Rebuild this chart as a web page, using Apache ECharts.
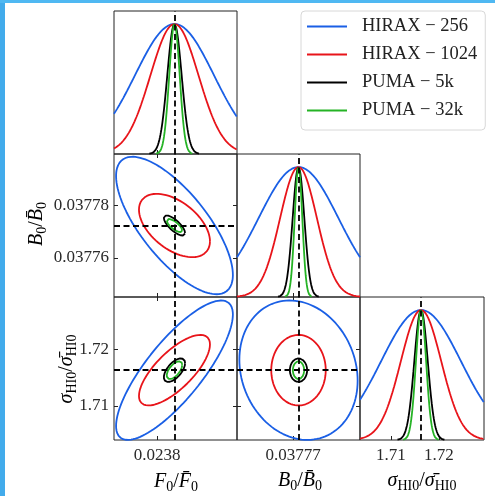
<!DOCTYPE html>
<html><head><meta charset="utf-8">
<script src="https://cdn.jsdelivr.net/npm/echarts@6/dist/echarts.min.js"></script>
<style>html,body{margin:0;padding:0;background:#fff;}#c{width:495px;height:496px;}</style>
</head><body><div id="c"></div>
<script>
// ---------------- data ----------------
const experiments = ['HIRAX \u2212 256', 'HIRAX \u2212 1024', 'PUMA \u2212 5k', 'PUMA \u2212 32k'];
const colors = ['#1a5fe5', '#e8141a', '#000000', '#25b325'];
// parameter order: F0/F0bar, B0/B0bar, sigmaHI0/sigmaHI0bar
const fiducial = [0.023817, 0.0377724, 1.7163];
const sigmaF0 = [3.85e-5, 2.34e-5, 7.0e-6, 5.1e-6];
const sigmaB0 = [1.78e-5, 8.2e-6, 2.6e-6, 1.7e-6];
const sigmaHI0 = [0.0083, 0.0042, 0.0014, 0.00106];
const corrF0B0 = [-0.72, -0.5, -0.75, -0.75];
const corrF0HI0 = [0.8, 0.73, 0.6, 0.6];
const corrB0HI0 = [-0.15, 0.0, 0.0, 0.0];
const xRanges = [[0.023758, 0.023878], [0.037745, 0.0377998], [1.7036, 1.7294]];
const yRanges = [[0, 1.1], [0.037745, 0.0377998], [1.7040, 1.7292]];
const ticksF0 = [0.0238];
const ticksB0x = [0.03777];
const ticksB0y = [0.03776, 0.03778];
const ticksHI0 = [1.71, 1.72];
const tickDecimals = [4, 5, 2];

// ---------------- build ----------------
const sigmas = [sigmaF0, sigmaB0, sigmaHI0];
function corr(a, b) {
  const k = Math.min(a, b) * 10 + Math.max(a, b);
  return k === 1 ? corrF0B0 : (k === 2 ? corrF0HI0 : corrB0HI0);
}
const xTicks = [ticksF0, ticksB0x, ticksHI0];
const yTicks = [null, ticksB0y, ticksHI0];
const SERIF = '"Liberation Serif", "DejaVu Serif", serif';
const colX = [114, 237, 360], colW = [123, 123, 124];
const rowY = [11, 154, 297], rowH = 143;
const contourScale = 1.48;
const curveSpan = 3.5; // 1D curves drawn over mean +/- curveSpan sigma
const panels = [[0,0],[1,0],[1,1],[2,0],[2,1],[2,2]];
const grids = [], xAxes = [], yAxes = [], series = [];
const tickStyle = {show: true, inside: true, length: 4, lineStyle: {color: '#222', width: 1}};
const labelStyle = {color: '#2a2a2a', fontFamily: SERIF, fontSize: 17};

panels.forEach(([r, c], gi) => {
  grids.push({left: colX[c], top: rowY[r], width: colW[c], height: rowH,
    show: true, borderColor: '#222', borderWidth: 1, backgroundColor: 'transparent'});
  const diag = r === c;
  const xb = xAxes.length;
  xAxes.push({type: 'value', gridIndex: gi, position: 'bottom', min: xRanges[c][0], max: xRanges[c][1],
    axisLine: {show: false}, splitLine: {show: false},
    axisTick: Object.assign({customValues: xTicks[c]}, tickStyle),
    axisLabel: Object.assign({show: r === 2, customValues: xTicks[c], margin: 7,
      formatter: v => Number(v).toFixed(tickDecimals[c])}, labelStyle)});
  if (!diag) {
    xAxes.push({type: 'value', gridIndex: gi, position: 'top', min: xRanges[c][0], max: xRanges[c][1],
      axisLine: {show: false}, splitLine: {show: false},
      axisTick: Object.assign({customValues: xTicks[c]}, tickStyle), axisLabel: {show: false}});
  }
  const yl = yAxes.length;
  if (diag) {
    yAxes.push({type: 'value', gridIndex: gi, min: 0, max: 1.1, show: false});
  } else {
    yAxes.push({type: 'value', gridIndex: gi, position: 'left', min: yRanges[r][0], max: yRanges[r][1],
      axisLine: {show: false}, splitLine: {show: false},
      axisTick: Object.assign({customValues: yTicks[r]}, tickStyle),
      axisLabel: Object.assign({show: c === 0, customValues: yTicks[r], margin: 5,
        formatter: v => Number(v).toFixed(tickDecimals[r])}, labelStyle)});
    yAxes.push({type: 'value', gridIndex: gi, position: 'right', min: yRanges[r][0], max: yRanges[r][1],
      axisLine: {show: false}, splitLine: {show: false},
      axisTick: Object.assign({customValues: yTicks[r]}, tickStyle), axisLabel: {show: false}});
  }
  experiments.forEach((name, e) => {
    let data = [];
    if (diag) {
      const mu = fiducial[c], s = sigmas[c][e];
      const a = Math.max(xRanges[c][0], mu - curveSpan * s), b = Math.min(xRanges[c][1], mu + curveSpan * s);
      const N = 400;
      for (let i = 0; i <= N; i++) {
        const x = a + (b - a) * i / N;
        data.push([x, Math.exp(-0.5 * ((x - mu) / s) ** 2)]);
      }
    } else {
      const mx = fiducial[c], my = fiducial[r];
      const sx = sigmas[c][e], sy = sigmas[r][e], rho = corr(c, r)[e];
      const N = 240;
      for (let i = 0; i <= N; i++) {
        const t = 2 * Math.PI * i / N;
        data.push([mx + contourScale * sx * Math.cos(t),
                   my + contourScale * sy * (rho * Math.cos(t) + Math.sqrt(1 - rho * rho) * Math.sin(t))]);
      }
    }
    const s = {type: 'line', name: name, xAxisIndex: xb, yAxisIndex: yl, data: data,
      showSymbol: false, symbol: 'none', color: colors[e], clip: true, silent: true,
      lineStyle: {color: colors[e], width: 1.8}};
    if (e === experiments.length - 1) {
      const md = [{xAxis: fiducial[c]}];
      if (!diag) md.push({yAxis: fiducial[r]});
      s.markLine = {silent: true, symbol: ['none', 'none'], label: {show: false}, precision: 10,
        lineStyle: {type: [6, 3.5], color: '#000', width: 1.8}, data: md, animation: false};
    }
    series.push(s);
  });
});

const rich = {
  i: {fontFamily: SERIF, fontStyle: 'italic', fontSize: 20, color: '#222'},
  n: {fontFamily: SERIF, fontSize: 20, color: '#222'},
  s: {fontFamily: SERIF, fontSize: 14, color: '#222', padding: [10, 0, 0, 0]}
};
const titleF = '{i|F}{s|0}{n|/}{i|F\u0304}{s|0}';
const titleB = '{i|B}{s|0}{n|/}{i|B\u0304}{s|0}';
const titleS = '{i|\u03c3}{s|HI0}{n|/}{i|\u03c3\u0304}{s|HI0}';
function title(text, x, y, rot) {
  return {type: 'text', x: x, y: y, rotation: rot || 0, silent: true,
    style: {text: text, rich: rich, align: 'center', verticalAlign: 'middle'}};
}

const option = {
  animation: false,
  backgroundColor: '#fff',
  grid: grids, xAxis: xAxes, yAxis: yAxes, series: series,
  legend: {data: experiments, orient: 'vertical', left: 301, top: 11, icon: 'rect',
    itemWidth: 40, itemHeight: 2, itemGap: 9, padding: [6, 8, 10, 6],
    backgroundColor: '#fff', borderColor: '#d8d8d8', borderWidth: 1, borderRadius: 4,
    textStyle: {fontFamily: SERIF, fontSize: 18.5, color: '#222', padding: [0, 0, 0, 10]}},
  graphic: [
    {type: 'rect', shape: {x: 0, y: 0, width: 5, height: 496}, style: {fill: '#42abeb'}, silent: true, z: 100},
    {type: 'rect', shape: {x: 0, y: 0, width: 495, height: 3}, style: {fill: '#4fb8f2'}, silent: true, z: 100},
    title(titleF, 176, 482),
    title(titleB, 300, 481),
    title(titleS, 422, 481),
    title(titleB, 37, 224, Math.PI / 2),
    title(titleS, 67, 369, Math.PI / 2)
  ]
};
const chart = echarts.init(document.getElementById('c'), null, {renderer: 'canvas'});
chart.setOption(option);
</script></body></html>
